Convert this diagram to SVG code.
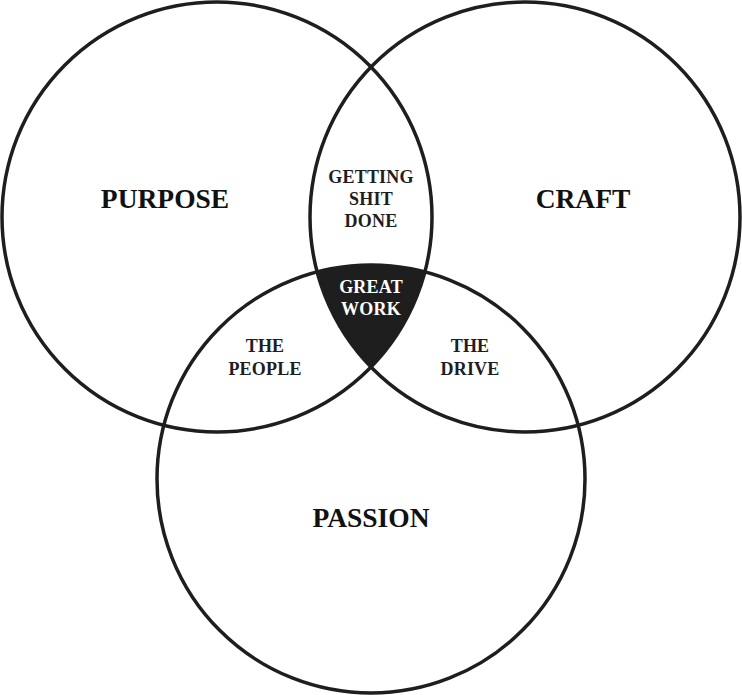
<svg xmlns="http://www.w3.org/2000/svg" width="742" height="695" viewBox="0 0 742 695">
<style>
.ring{fill:none;stroke:#1e1e1e;stroke-width:3.5}
.big{font-family:"Liberation Serif",serif;font-weight:bold;font-size:27.5px;fill:#111;text-anchor:middle}
.small{font-family:"Liberation Serif",serif;font-weight:bold;font-size:18px;fill:#1e1e1e;text-anchor:middle;letter-spacing:0.2px}
.white{fill:#fff}
</style>
<defs>
<clipPath id="cL"><circle cx="217" cy="217" r="215"/></clipPath>
<clipPath id="cR"><circle cx="525" cy="217" r="215"/></clipPath>
</defs>
<rect width="742" height="695" fill="#fff"/>
<g id="center-fill" clip-path="url(#cL)">
<g clip-path="url(#cR)">
<circle cx="371" cy="479" r="214" fill="#1e1e1e"/>
</g>
</g>
<g id="connectors"></g>
<g id="purpose"><circle class="ring" cx="217" cy="217" r="215"/><text class="big" x="165" y="208">PURPOSE</text></g>
<g id="craft"><circle class="ring" cx="525" cy="217" r="215"/><text class="big" x="583" y="208">CRAFT</text></g>
<g id="passion"><circle class="ring" cx="371" cy="479" r="214"/><text class="big" x="371" y="527">PASSION</text></g>
<g id="getting-shit-done"><text class="small" x="371" y="183">GETTING</text><text class="small" x="371" y="205">SHIT</text><text class="small" x="371" y="227">DONE</text></g>
<g id="great-work"><text class="small white" x="371" y="293">GREAT</text><text class="small white" x="371" y="315">WORK</text></g>
<g id="the-people"><text class="small" x="265" y="352">THE</text><text class="small" x="265" y="375">PEOPLE</text></g>
<g id="the-drive"><text class="small" x="470" y="352">THE</text><text class="small" x="470" y="375">DRIVE</text></g>
</svg>
